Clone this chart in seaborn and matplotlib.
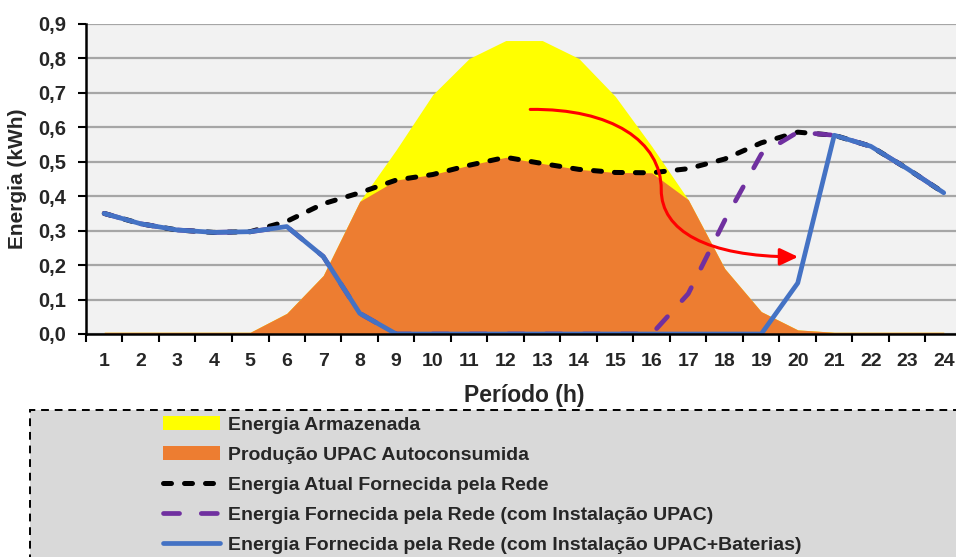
import numpy as np
import pandas as pd
import matplotlib.pyplot as plt
import seaborn as sns
from matplotlib.path import Path
from matplotlib.patches import FancyArrowPatch, Rectangle

hours = list(range(1, 25))
energia_armazenada = [0.005, 0.005, 0.005, 0.005, 0.005, 0.06, 0.17, 0.385, 0.535, 0.695, 0.80, 0.852,
                      0.852, 0.80, 0.69, 0.545, 0.39, 0.19, 0.065, 0.012, 0.005, 0.005, 0.005, 0.005]
producao_autoconsumida = [0.005, 0.005, 0.005, 0.005, 0.005, 0.06, 0.17, 0.385, 0.447, 0.463, 0.49, 0.513,
                          0.495, 0.478, 0.469, 0.468, 0.39, 0.19, 0.065, 0.012, 0.005, 0.005, 0.005, 0.005]
rede_atual = [0.35, 0.32, 0.302, 0.295, 0.297, 0.327, 0.378, 0.41, 0.447, 0.463, 0.49, 0.513,
              0.495, 0.478, 0.469, 0.468, 0.48, 0.508, 0.555, 0.586, 0.577, 0.545, 0.48, 0.41]
rede_upac = [0.35, 0.32, 0.302, 0.295, 0.297, 0.312, 0.225, 0.06, 0, 0, 0, 0,
             0, 0, 0, 0, 0.117, 0.33, 0.522, 0.586, 0.577, 0.545, 0.48, 0.41]
rede_baterias = [0.35, 0.32, 0.302, 0.295, 0.297, 0.312, 0.225, 0.06, 0, 0, 0, 0,
                 0, 0, 0, 0, 0, 0, 0, 0.148, 0.577, 0.545, 0.48, 0.41]
labels = ['Energia Armazenada', 'Produção UPAC Autoconsumida', 'Energia Atual Fornecida pela Rede',
          'Energia Fornecida pela Rede (com Instalação UPAC)',
          'Energia Fornecida pela Rede (com Instalação UPAC+Baterias)']
yticks = [0.0, 0.1, 0.2, 0.3, 0.4, 0.5, 0.6, 0.7, 0.8, 0.9]

df = pd.DataFrame({'hora': hours, 'armazenada': energia_armazenada, 'autoconsumida': producao_autoconsumida,
                   'atual': rede_atual, 'upac': rede_upac, 'baterias': rede_baterias})

sns.set_style('white')
plt.rcParams['font.family'] = ['Liberation Sans', 'DejaVu Sans']
plt.rcParams['font.weight'] = 'bold'

fig = plt.figure(figsize=(9.56, 5.57), dpi=100)
ax = fig.add_axes([86/956, 223/557, 876/956, 310/557])
ax.set_facecolor('#f2f2f2')

h1 = ax.fill_between(df['hora'], 0, df['armazenada'], color='#ffff00', linewidth=0, zorder=2)
h2 = ax.fill_between(df['hora'], 0, df['autoconsumida'], color='#ed7d31', linewidth=0, zorder=3)

sns.lineplot(data=df, x='hora', y='atual', ax=ax, color='black', linewidth=3.6,
             linestyle=(0, (1.6, 2.6)), dash_capstyle='round', zorder=4)
sns.lineplot(data=df, x='hora', y='upac', ax=ax, color='#7030a0', linewidth=3.4,
             linestyle=(0, (3.4, 4.6)), dash_capstyle='round', zorder=5)
sns.lineplot(data=df, x='hora', y='baterias', ax=ax, color='#4472c4', linewidth=3.4,
             solid_capstyle='round', zorder=6)
lines = ax.get_lines()

# curved red arrow (S shape)
arrow_path = Path([(12.67, 0.652), (14.9, 0.655), (16.26, 0.56), (16.26, 0.419),
                   (16.26, 0.30), (17.5, 0.224), (20.01, 0.224)],
                  [Path.MOVETO, Path.CURVE4, Path.CURVE4, Path.CURVE4,
                   Path.CURVE4, Path.CURVE4, Path.CURVE4])
arrow = FancyArrowPatch(path=arrow_path, arrowstyle='-|>,head_length=0.55,head_width=0.26',
                        mutation_scale=20, color='#ff0000', linewidth=2.2, zorder=7)
ax.add_patch(arrow)

ax.set_xlim(0.5, 24.5)
ax.set_ylim(0, 0.9)
ax.set_xticks(np.arange(0.5, 25, 1))
ax.set_xticklabels([])
ax.set_xticks(hours, minor=True)
ax.set_xticklabels([str(h) for h in hours], minor=True, fontsize=14, fontweight='bold')
ax.tick_params(axis='x', which='major', direction='out', length=6, width=1.5, color='black', bottom=True)
ax.tick_params(axis='x', which='minor', length=0, pad=14)
ax.set_yticks(yticks)
ax.set_yticklabels([f'{v:.1f}'.replace('.', ',') for v in yticks], fontsize=14.5, fontweight='bold')
ax.tick_params(axis='y', direction='out', length=6, width=1.5, color='black', left=True, pad=8)
ax.yaxis.grid(True, color='#a6a6a6', linewidth=1.6, zorder=1)
ax.set_axisbelow(True)
for s in ['top', 'right']:
    ax.spines[s].set_visible(False)
for s in ['left', 'bottom']:
    ax.spines[s].set_color('black')
    ax.spines[s].set_linewidth(1.8)
    ax.spines[s].set_zorder(8)

ax.set_xlabel('Período (h)', fontsize=16.5, fontweight='bold', labelpad=10)
ax.set_ylabel('Energia (kWh)', fontsize=15, fontweight='bold', labelpad=8)

# legend box
box = Rectangle((30/956, -0.1), 1.0, (557-410)/557 + 0.1, transform=fig.transFigure,
                facecolor='#d9d9d9', edgecolor='black', linestyle=(0, (4, 3)), linewidth=1.4)
fig.patches.append(box)
fig.legend(handles=[h1, h2, lines[0], lines[1], lines[2]], labels=labels,
           loc='upper left', bbox_to_anchor=(163/956, (557-416)/557), frameon=False,
           handlelength=2.95, handletextpad=0.4, labelspacing=0.64, borderpad=0,
           borderaxespad=0, prop={'weight': 'bold', 'size': 14})

fig.savefig('out.png', dpi=100)
